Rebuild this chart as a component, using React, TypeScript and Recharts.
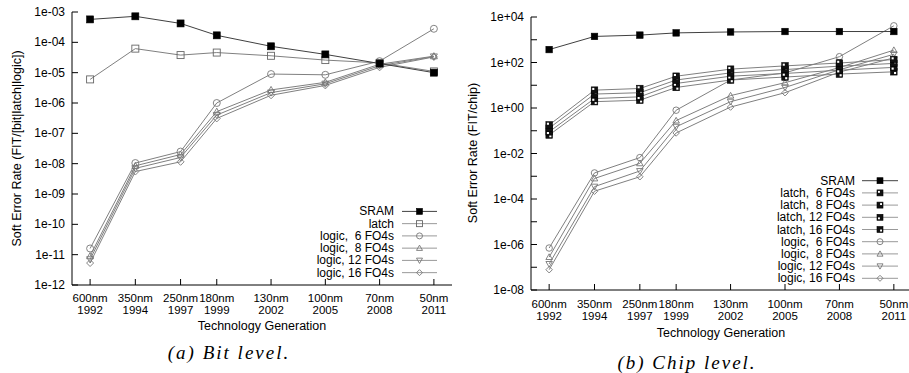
import React from 'react';
import { LineChart, Line, XAxis, YAxis } from 'recharts';

// technology generations (x positions follow the original gnuplot spacing)
const nodes = ['600nm', '350nm', '250nm', '180nm', '130nm', '100nm', '70nm', '50nm'];
const years = ['1992', '1994', '1997', '1999', '2002', '2005', '2008', '2011'];
const xPos = [0, 2.5, 5, 7, 10, 13, 16, 19];

// (a) bit level, FIT per bit / latch / logic
const bitSram = [5.7e-4, 7.2e-4, 4.2e-4, 1.7e-4, 7.4e-5, 4.0e-5, 2.0e-5, 1.0e-5];
const bitLatch = [6e-6, 6.2e-5, 3.8e-5, 4.6e-5, 3.6e-5, 2.6e-5, 2.1e-5, 1.1e-5];
const bitLogic6 = [1.6e-11, 1.05e-8, 2.5e-8, 1.0e-6, 9e-6, 8.5e-6, 2.4e-5, 2.8e-4];
const bitLogic8 = [9e-12, 8.5e-9, 2.0e-8, 5.2e-7, 2.7e-6, 4.8e-6, 1.9e-5, 3.5e-5];
const bitLogic12 = [7e-12, 7e-9, 1.6e-8, 4.0e-7, 2.2e-6, 4.3e-6, 1.7e-5, 3.4e-5];
const bitLogic16 = [5.3e-12, 5.5e-9, 1.15e-8, 3.1e-7, 1.8e-6, 3.8e-6, 1.5e-5, 3.3e-5];

// (b) chip level, FIT per chip
const chipSram = [370, 1400, 1600, 2000, 2200, 2300, 2300, 2300];
const chipLatch6 = [0.18, 6.1, 7.2, 25, 51, 71, 95, 135];
const chipLatch8 = [0.13, 4.1, 4.7, 17, 35, 49, 69, 91];
const chipLatch12 = [0.09, 2.6, 3.1, 12, 25, 33, 46, 61];
const chipLatch16 = [0.065, 1.9, 2.2, 8, 17, 23, 31, 39];
const chipLogic6 = [7e-7, 1.4e-3, 6.6e-3, 0.8, 17, 35, 180, 4100];
const chipLogic8 = [2.8e-7, 8e-4, 3.7e-3, 0.28, 3.5, 13, 60, 350];
const chipLogic12 = [1.4e-7, 3.5e-4, 1.7e-3, 0.15, 1.9, 8, 48, 230];
const chipLogic16 = [7.8e-8, 2.2e-4, 9.5e-4, 0.08, 1.1, 4.7, 38, 160];

const bitTicks = [1e-12, 1e-11, 1e-10, 1e-9, 1e-8, 1e-7, 1e-6, 1e-5, 1e-4, 1e-3];
const chipTicks = [1e-8, 1e-7, 1e-6, 1e-5, 1e-4, 1e-3, 1e-2, 1e-1, 1, 10, 100, 1e3, 1e4];
const chipLabelTicks = [1e-8, 1e-6, 1e-4, 1e-2, 1, 100, 1e4];

const FONT = '"Liberation Sans", Arial, Helvetica, sans-serif';
const CAPTION_FONT = '"Liberation Serif", "Times New Roman", serif';
const GRAY = '#808080';
const DARK = '#404040';

type Shape =
  | 'sqFill' | 'sqOpen' | 'circle' | 'tri' | 'triDown' | 'diamond'
  | 'latch6' | 'latch8' | 'latch12' | 'latch16';

function Marker({ shape, cx, cy, s }: { shape: Shape; cx: number; cy: number; s: number }) {
  const h = s / 2;
  if (cx == null || cy == null || isNaN(cx) || isNaN(cy)) return null;
  switch (shape) {
    case 'sqFill':
      return <rect x={cx - h} y={cy - h} width={s} height={s} fill="#000" stroke="#000" strokeWidth={0.6} />;
    case 'sqOpen':
      return <rect x={cx - h} y={cy - h} width={s} height={s} fill="none" stroke="#666" strokeWidth={0.9} />;
    case 'circle':
      return <circle cx={cx} cy={cy} r={h} fill="none" stroke="#777" strokeWidth={0.9} />;
    case 'tri':
      return (
        <polygon
          points={`${cx},${cy - h} ${cx - h},${cy + h * 0.75} ${cx + h},${cy + h * 0.75}`}
          fill="none" stroke="#777" strokeWidth={0.9}
        />
      );
    case 'triDown':
      return (
        <polygon
          points={`${cx},${cy + h} ${cx - h},${cy - h * 0.75} ${cx + h},${cy - h * 0.75}`}
          fill="none" stroke="#777" strokeWidth={0.9}
        />
      );
    case 'diamond':
      return (
        <polygon
          points={`${cx},${cy - h} ${cx + h},${cy} ${cx},${cy + h} ${cx - h},${cy}`}
          fill="none" stroke="#777" strokeWidth={0.9}
        />
      );
    default: {
      // latch markers: black box with a white square in one corner
      const q = s * 0.32;
      const corner: Record<string, [number, number]> = {
        latch6: [cx - h + 1, cy - h + 1],
        latch8: [cx + h - 1 - q, cy - h + 1],
        latch12: [cx - h + 1, cy + h - 1 - q],
        latch16: [cx + h - 1 - q, cy + h - 1 - q],
      };
      const [qx, qy] = corner[shape];
      return (
        <g>
          <rect x={cx - h} y={cy - h} width={s} height={s} fill="#111" stroke="#000" strokeWidth={0.6} />
          <rect x={qx} y={qy} width={q} height={q} fill="#fff" />
        </g>
      );
    }
  }
}

const dotFor = (shape: Shape, s: number) => (p: any) => (
  <Marker key={`${shape}-${p.index}`} shape={shape} cx={p.cx} cy={p.cy} s={s} />
);

const fmtExp = (v: number) => {
  const e = Math.round(Math.log10(v));
  return `1e${e < 0 ? '-' : '+'}${String(Math.abs(e)).padStart(2, '0')}`;
};

interface SeriesDef {
  key: string;
  label: string;
  values: number[];
  shape: Shape;
  color: string;
}

const bitSeries: SeriesDef[] = [
  { key: 'sram', label: 'SRAM', values: bitSram, shape: 'sqFill', color: DARK },
  { key: 'latch', label: 'latch', values: bitLatch, shape: 'sqOpen', color: GRAY },
  { key: 'l6', label: 'logic,  6 FO4s', values: bitLogic6, shape: 'circle', color: GRAY },
  { key: 'l8', label: 'logic,  8 FO4s', values: bitLogic8, shape: 'tri', color: GRAY },
  { key: 'l12', label: 'logic, 12 FO4s', values: bitLogic12, shape: 'triDown', color: GRAY },
  { key: 'l16', label: 'logic, 16 FO4s', values: bitLogic16, shape: 'diamond', color: GRAY },
];

const chipSeries: SeriesDef[] = [
  { key: 'sram', label: 'SRAM', values: chipSram, shape: 'sqFill', color: DARK },
  { key: 'la6', label: 'latch,  6 FO4s', values: chipLatch6, shape: 'latch6', color: GRAY },
  { key: 'la8', label: 'latch,  8 FO4s', values: chipLatch8, shape: 'latch8', color: GRAY },
  { key: 'la12', label: 'latch, 12 FO4s', values: chipLatch12, shape: 'latch12', color: GRAY },
  { key: 'la16', label: 'latch, 16 FO4s', values: chipLatch16, shape: 'latch16', color: GRAY },
  { key: 'l6', label: 'logic,  6 FO4s', values: chipLogic6, shape: 'circle', color: GRAY },
  { key: 'l8', label: 'logic,  8 FO4s', values: chipLogic8, shape: 'tri', color: GRAY },
  { key: 'l12', label: 'logic, 12 FO4s', values: chipLogic12, shape: 'triDown', color: GRAY },
  { key: 'l16', label: 'logic, 16 FO4s', values: chipLogic16, shape: 'diamond', color: GRAY },
];

const buildRows = (series: SeriesDef[]) =>
  xPos.map((x, i) => {
    const row: Record<string, number> = { x };
    series.forEach((s) => (row[s.key] = s.values[i]));
    return row;
  });

interface PanelProps {
  series: SeriesDef[];
  domain: [number, number];
  ticks: number[];
  labelTicks: number[];
  left: number;
  top: number;
  yAxisWidth: number;
  xAxisHeight: number;
  rightMargin: number;
  line1: number;
  line2: number;
  markSize: number;
}

function Panel(p: PanelProps) {
  const rows = buildRows(p.series);
  const txt = { fontSize: 12, fontFamily: FONT, fill: '#000' };
  const xTxt = { fontSize: 11.5, fontFamily: FONT, fill: '#000' };

  const yTickLeft = (t: any) => (
    <g>
      <line x1={t.x} x2={t.x + 6} y1={t.y} y2={t.y} stroke="#000" />
      {p.labelTicks.some((v) => Math.abs(Math.log10(v) - Math.log10(t.payload.value)) < 1e-6) && (
        <text x={t.x - 7} y={t.y} textAnchor="end" dominantBaseline="central" {...txt}>
          {fmtExp(t.payload.value)}
        </text>
      )}
    </g>
  );
  const yTickRight = (t: any) => <line x1={t.x} x2={t.x - 6} y1={t.y} y2={t.y} stroke="#000" />;
  const xTickBottom = (t: any) => {
    const i = xPos.indexOf(t.payload.value);
    return (
      <g>
        <line x1={t.x} x2={t.x} y1={t.y} y2={t.y - 6} stroke="#000" />
        <text x={t.x} y={t.y + p.line1} textAnchor="middle" {...xTxt}>{nodes[i]}</text>
        <text x={t.x} y={t.y + p.line2} textAnchor="middle" {...xTxt}>{years[i]}</text>
      </g>
    );
  };
  const xTickTop = (t: any) => <line x1={t.x} x2={t.x} y1={t.y} y2={t.y + 6} stroke="#000" />;

  return (
    <div style={{ position: 'absolute', left: p.left, top: 0 }}>
      <LineChart
        width={460}
        height={373}
        data={rows}
        margin={{ top: p.top, right: p.rightMargin, bottom: 0, left: 0 }}
      >
        <XAxis
          dataKey="x"
          type="number"
          domain={[-1, 20]}
          ticks={xPos}
          allowDataOverflow
          height={p.xAxisHeight}
          axisLine={{ stroke: '#000' }}
          tickLine={false}
          tickSize={0}
          tickMargin={0}
          interval={0}
          tick={xTickBottom}
        />
        <XAxis
          xAxisId="top"
          orientation="top"
          dataKey="x"
          type="number"
          domain={[-1, 20]}
          ticks={xPos}
          allowDataOverflow
          height={0}
          axisLine={{ stroke: '#000' }}
          tickLine={false}
          tickSize={0}
          tickMargin={0}
          interval={0}
          tick={xTickTop}
        />
        <YAxis
          type="number"
          scale="log"
          domain={p.domain}
          ticks={p.ticks}
          allowDataOverflow
          width={p.yAxisWidth}
          axisLine={{ stroke: '#000' }}
          tickLine={false}
          tickSize={0}
          tickMargin={0}
          interval={0}
          tick={yTickLeft}
        />
        <YAxis
          yAxisId="right"
          orientation="right"
          type="number"
          scale="log"
          domain={p.domain}
          ticks={p.ticks}
          allowDataOverflow
          width={0}
          axisLine={{ stroke: '#000' }}
          tickLine={false}
          tickSize={0}
          tickMargin={0}
          interval={0}
          tick={yTickRight}
        />
        {p.series
          .slice()
          .reverse()
          .map((s) => (
            <Line
              key={s.key}
              type="linear"
              dataKey={s.key}
              stroke={s.color}
              strokeWidth={1}
              dot={dotFor(s.shape, p.markSize)}
              activeDot={false}
              isAnimationActive={false}
            />
          ))}
      </LineChart>
    </div>
  );
}

function Legend({
  series, textX, lineX1, lineX2, y0, step, markSize,
}: {
  series: SeriesDef[]; textX: number; lineX1: number; lineX2: number; y0: number; step: number; markSize: number;
}) {
  return (
    <g>
      {series.map((s, i) => {
        const y = y0 + i * step;
        return (
          <g key={s.key}>
            <text
              x={textX}
              y={y}
              textAnchor="end"
              dominantBaseline="central"
              fontSize={12}
              fontFamily={FONT}
              style={{ whiteSpace: 'pre' }}
              fill="#000"
            >
              {s.label}
            </text>
            <line x1={lineX1} x2={lineX2} y1={y} y2={y} stroke={s.color === DARK ? DARK : '#999'} />
            <Marker shape={s.shape} cx={(lineX1 + lineX2) / 2} cy={y} s={markSize} />
          </g>
        );
      })}
    </g>
  );
}

export default function App() {
  return (
    <div
      style={{
        position: 'absolute',
        left: 0,
        top: 0,
        width: 909,
        height: 373,
        overflow: 'hidden',
        background: '#fff',
      }}
    >
      <Panel
        series={bitSeries}
        domain={[1e-12, 1e-3]}
        ticks={bitTicks}
        labelTicks={bitTicks}
        left={0}
        top={12}
        yAxisWidth={72}
        xAxisHeight={88}
        rightMargin={8}
        line1={16.5}
        line2={29}
        markSize={7}
      />
      <Panel
        series={chipSeries}
        domain={[1e-8, 1e4]}
        ticks={chipTicks}
        labelTicks={chipLabelTicks}
        left={455}
        top={17}
        yAxisWidth={76}
        xAxisHeight={83}
        rightMargin={3}
        line1={17.5}
        line2={30}
        markSize={6.5}
      />
      <svg
        width={909}
        height={373}
        style={{ position: 'absolute', left: 0, top: 0, pointerEvents: 'none' }}
      >
        <text
          transform="translate(17,148.5) rotate(-90)"
          textAnchor="middle"
          dominantBaseline="central"
          fontSize={12.5}
          fontFamily={FONT}
        >
          Soft Error Rate (FIT/[bit|latch|logic])
        </text>
        <text
          transform="translate(473,153) rotate(-90)"
          textAnchor="middle"
          dominantBaseline="central"
          fontSize={12.5}
          fontFamily={FONT}
        >
          Soft Error Rate (FIT/chip)
        </text>
        <text x={262} y={326} textAnchor="middle" dominantBaseline="central" fontSize={12.5} fontFamily={FONT}>
          Technology Generation
        </text>
        <text x={721} y={333} textAnchor="middle" dominantBaseline="central" fontSize={12.5} fontFamily={FONT}>
          Technology Generation
        </text>
        <text
          x={229}
          y={352}
          textAnchor="middle"
          dominantBaseline="central"
          fontSize={19}
          fontStyle="italic"
          letterSpacing={2}
          fontFamily={CAPTION_FONT}
        >
          (a) Bit level.
        </text>
        <text
          x={687}
          y={362}
          textAnchor="middle"
          dominantBaseline="central"
          fontSize={19}
          fontStyle="italic"
          letterSpacing={2}
          fontFamily={CAPTION_FONT}
        >
          (b) Chip level.
        </text>
        <Legend series={bitSeries} textX={394} lineX1={402} lineX2={437} y0={211.4} step={12.25} markSize={6} />
        <Legend series={chipSeries} textX={855} lineX1={862} lineX2={898} y0={180.7} step={12.2} markSize={6} />
      </svg>
    </div>
  );
}
